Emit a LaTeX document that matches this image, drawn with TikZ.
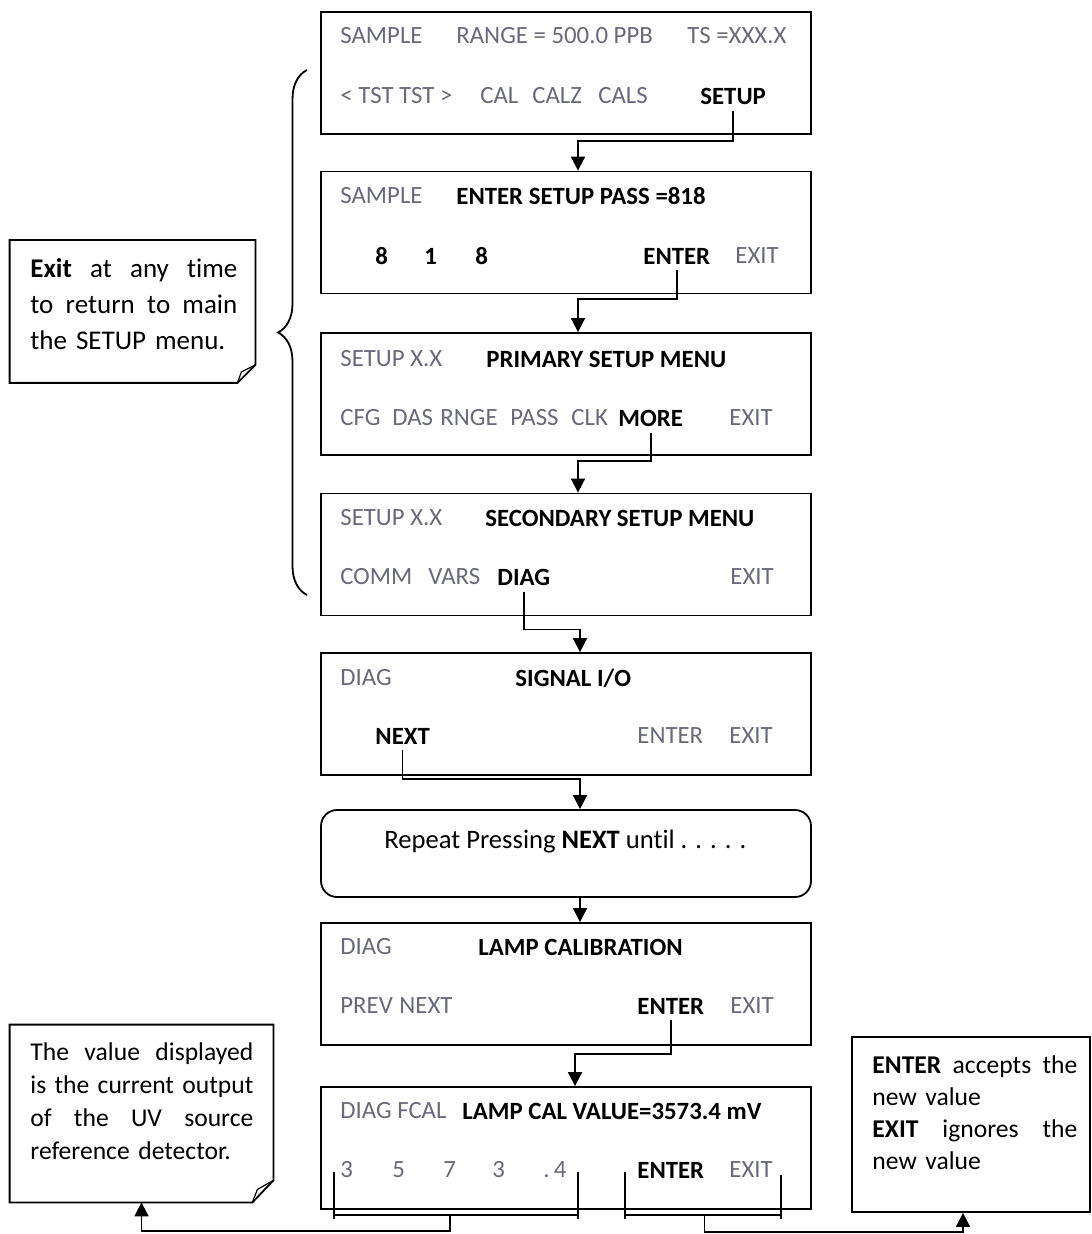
\documentclass[tikz,border=0pt]{standalone}
\usepackage{fontspec}
\setmainfont{Carlito}[Ligatures=NoCommon]
\usetikzlibrary{arrows.meta,decorations.pathreplacing}
\definecolor{keygray}{RGB}{105,105,122}
% a note line spread over the full width
\newcommand{\spreadline}[1]{\makebox[\hsize][l]{#1}}

\begin{document}
\begin{tikzpicture}[x=0.5pt,y=-0.5pt,
		screen/.style={draw,line width=0.9pt,minimum width=245pt,minimum height=61pt,inner sep=0pt},
		key/.style={anchor=west,inner sep=0pt,text=keygray,font=\fontsize{12.4}{15}\selectfont},
		hot/.style={key,text=black,font=\fontsize{12.4}{15}\selectfont\bfseries},
		notebox/.style={inner sep=0pt},
		notetext/.style={anchor=north west,inner sep=0pt,align=left,font=\fontsize{13}{17}\selectfont},
		wire/.style={line width=0.9pt},
		arr/.style={wire,-{Triangle[width=7pt,length=7pt]}}]
	\useasboundingbox (0,0) rectangle (1091,1234);
	% screens
	\node[screen] (scr1) at (566,73) {};
	\node[screen] (scr2) at (566,232.5) {};
	\node[screen] (scr3) at (566,394) {};
	\node[screen] (scr4) at (566,554.5) {};
	\node[screen] (scr5) at (566,714) {};
	\node[screen,minimum height=43.5pt,rounded corners=8pt] (rep) at (566,853.5) {};
	\node[screen] (scr6) at (566,984) {};
	\node[screen] (scr7) at (566,1148) {};
	% screen 1
	\node[key] (s1a) at (340,36) {SAMPLE};
	\node[key] (s1b) at (456,36) {RANGE = 500.0 PPB};
	\node[key] (s1c) at (687,36) {TS =XXX.X};
	\node[key] (s1d) at (340,96) {< TST TST >};
	\node[key] (s1e) at (480,96) {CAL};
	\node[key] (s1f) at (532,96) {CALZ};
	\node[key] (s1g) at (598,96) {CALS};
	\node[hot] (s1setup) at (700,96) {SETUP};
	% screen 2
	\node[key] (s2a) at (340,196) {SAMPLE};
	\node[hot] (s2b) at (456,196) {ENTER SETUP PASS =818};
	\node[hot] (s2c) at (375,256) {8};
	\node[hot] (s2d) at (424,256) {1};
	\node[hot] (s2e) at (475,256) {8};
	\node[hot] (s2enter) at (643,256) {ENTER};
	\node[key] (s2exit) at (735,256) {EXIT};
	% screen 3
	\node[key] (s3a) at (340,359) {SETUP X.X};
	\node[hot] (s3b) at (486,359) {PRIMARY SETUP MENU};
	\node[key] (s3c) at (340,418) {CFG};
	\node[key] (s3d) at (392,418) {DAS};
	\node[key] (s3e) at (440,418) {RNGE};
	\node[key] (s3f) at (510,418) {PASS};
	\node[key] (s3g) at (571,418) {CLK};
	\node[hot] (s3more) at (618,418) {MORE};
	\node[key] (s3exit) at (729,418) {EXIT};
	% screen 4
	\node[key] (s4a) at (340,518) {SETUP X.X};
	\node[hot] (s4b) at (485,518) {SECONDARY SETUP MENU};
	\node[key] (s4c) at (340,577) {COMM};
	\node[key] (s4d) at (428,577) {VARS};
	\node[hot] (s4diag) at (497,577) {DIAG};
	\node[key] (s4exit) at (730,577) {EXIT};
	% screen 5
	\node[key] (s5a) at (340,678) {DIAG};
	\node[hot] (s5b) at (515,678) {SIGNAL I/O};
	\node[hot] (s5next) at (375,736) {NEXT};
	\node[key] (s5enter) at (637,736) {ENTER};
	\node[key] (s5exit) at (729,736) {EXIT};
	% repeat box
	\node[notetext,anchor=west,font=\fontsize{13.3}{16}\selectfont] (reptxt) at (384,842) {Repeat Pressing \textbf{NEXT} until . . . . .};
	% screen 6
	\node[key] (s6a) at (340,947) {DIAG};
	\node[hot] (s6b) at (478,947) {LAMP CALIBRATION};
	\node[key] (s6c) at (340,1006) {PREV};
	\node[key] (s6d) at (399,1006) {NEXT};
	\node[hot] (s6enter) at (637,1006) {ENTER};
	\node[key] (s6exit) at (730,1006) {EXIT};
	% screen 7
	\node[key] (s7a) at (340,1111) {DIAG FCAL};
	\node[hot] (s7b) at (462,1111) {LAMP CAL VALUE=3573.4 mV};
	\node[key] (s7c) at (340,1170) {3};
	\node[key] (s7d) at (392,1170) {5};
	\node[key] (s7e) at (443,1170) {7};
	\node[key] (s7f) at (492,1170) {3};
	\node[key] (s7g) at (543,1170) {.\,4};
	\node[hot] (s7enter) at (637,1170) {ENTER};
	\node[key] (s7exit) at (729,1170) {EXIT};
	% flow
	\draw[arr] ([yshift=-3pt]s1setup.south) |- ([xshift=6pt,yshift=-3pt]scr1.south) -- ([xshift=6pt]scr2.north);
	\draw[arr] ([yshift=-3pt]s2enter.south) |- ([xshift=6pt,yshift=-2.5pt]scr2.south) -- ([xshift=6pt]scr3.north);
	\draw[arr] ([yshift=-3pt]s3more.south) |- ([xshift=6pt,yshift=-2.5pt]scr3.south) -- ([xshift=6pt]scr4.north);
	\draw[arr] ([yshift=-3pt]s4diag.south) |- ([xshift=7pt,yshift=-6.5pt]scr4.south) -- ([xshift=7pt]scr5.north);
	\draw[arr] ([yshift=-3pt]s5next.south) |- ([xshift=7pt,yshift=-1.5pt]scr5.south) -- ([xshift=7pt]rep.north);
	\draw[arr] ([xshift=7pt]rep.south) -- ([xshift=7pt]scr6.north);
	\draw[arr] ([yshift=-3pt]s6enter.south) |- ([xshift=4.5pt,yshift=-4pt]scr6.south) -- ([xshift=4.5pt]scr7.north);
	% brace
	\draw[wire,decorate,decoration={brace,amplitude=14.5pt}] (307,595) -- (307,70);
	% notes
	\node[notebox,minimum width=122.5pt,minimum height=71pt] (note1) at (132.5,311.5) {};
	\draw[wire] (note1.north west) -- (note1.north east) -- ([yshift=9pt]note1.south east)
		-- ([xshift=-9pt]note1.south east) -- (note1.south west) -- cycle;
	\draw[line width=0.6pt] ([xshift=-9pt]note1.south east) -- ([xshift=-7pt,yshift=5.5pt]note1.south east) -- ([yshift=9pt]note1.south east);
	\node[notetext,text width=103.5pt,font=\fontsize{13.5}{18}\selectfont] (note1txt) at (30,258) {%
		\spreadline{\textbf{Exit}\hfill at\hfill any\hfill time}\\
		\spreadline{to\hfill return\hfill to\hfill main}\\
		the SETUP menu.};
	\node[notebox,minimum width=131.5pt,minimum height=88.5pt] (note2) at (141.5,1113.5) {};
	\draw[wire] (note2.north west) -- (note2.north east) -- ([yshift=11pt]note2.south east)
		-- ([xshift=-10.5pt]note2.south east) -- (note2.south west) -- cycle;
	\draw[line width=0.6pt] ([xshift=-10.5pt]note2.south east) -- ([xshift=-8pt,yshift=6.5pt]note2.south east) -- ([yshift=11pt]note2.south east);
	\node[notetext,text width=111.5pt,font=\fontsize{12.8}{16.5}\selectfont] (note2txt) at (30,1042) {%
		\spreadline{The\hfill value\hfill displayed}\\
		\spreadline{is\hfill the\hfill current\hfill output}\\
		\spreadline{of\hfill the\hfill UV\hfill source}\\
		reference detector.};
	\node[notebox,draw,line width=0.9pt,minimum width=119pt,minimum height=87.5pt] (note3) at (971,1124.5) {};
	\node[notetext,text width=102.5pt,font=\fontsize{12.8}{16}\selectfont] (note3txt) at (872,1055) {%
		\spreadline{\textbf{ENTER}\hfill accepts\hfill the}\\
		new value\\
		\spreadline{\textbf{EXIT}\hfill ignores\hfill the}\\
		new value};
	% brackets under the last screen
	\draw[wire] (334,1172) -- (334,1219) (578,1172) -- (578,1219)
		(334,1215) -- coordinate[pos=0.475] (dmid) (578,1215);
	\draw[wire] (625,1172) -- (625,1219) (781,1175) -- (781,1219)
		(625,1215) -- coordinate[pos=0.51] (emid) (781,1215);
	\draw[arr] (dmid) -- ++(0,16) -| (note2.south);
	\draw[arr] (emid) -- ++(0,17) -| ([xshift=-4pt]note3.south);
\end{tikzpicture}
\end{document}
